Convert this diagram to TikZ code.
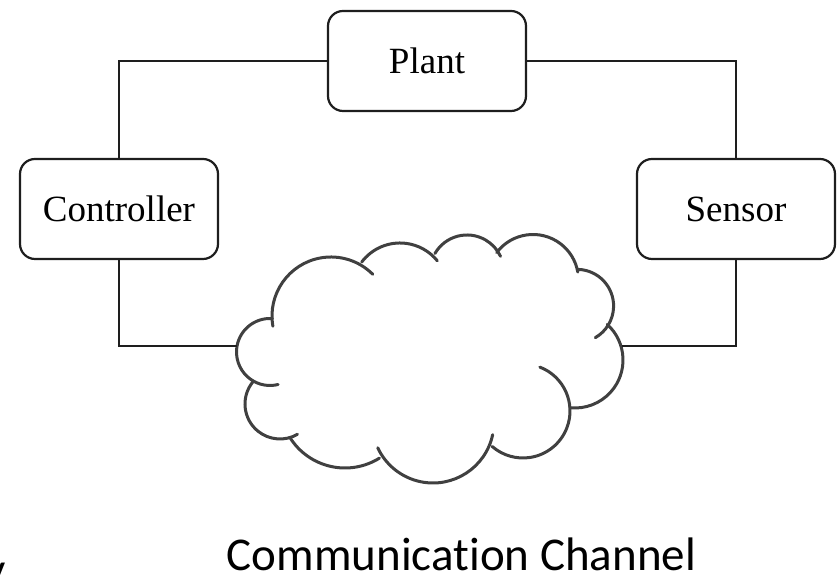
\documentclass[tikz,border=0pt]{standalone}
\usepackage{fontspec}
\setmainfont{Liberation Serif}
\newfontfamily\capfont{Carlito}[Ligatures=NoCommon]
\usepackage{tikz}
\usetikzlibrary{positioning}
\definecolor{ncsdark}{HTML}{1E1E1E}
\definecolor{ncsgray}{HTML}{404040}
\tikzset{
  box/.style={rounded corners=7.5pt,draw=ncsdark,line width=1.1pt,fill=white,align=center,
    minimum width=99pt,minimum height=50pt,inner sep=2pt,font=\fontsize{18.5}{22}\selectfont},
  link/.style={draw=ncsdark,line width=1pt},
  lobe/.style={draw=ncsgray,line width=1.5pt,line cap=round},
}

\begin{document}
\begin{tikzpicture}[x=0.5pt,y=0.5pt]
  \useasboundingbox (0,0) rectangle (837,576);
  \node[box] (plant) at (427,515) {Plant};
  \node[box] (ctrl) at (119,367) {Controller};
  \node[box] (sens) at (736,367) {Sensor};
  % cloud, one arc per lobe
  \draw[lobe] (331,260) ++(190:59) arc[start angle=190,end angle=45,radius=59];
  \draw[lobe] (400,285) ++(143:48) arc[start angle=143,end angle=39,radius=48];
  \draw[lobe] (467,304) ++(150:37) arc[start angle=150,end angle=25,radius=37];
  \draw[lobe] (533,296) ++(143:45.5) arc[start angle=143,end angle=10,radius=45.5];
  \draw[lobe] (577,270) ++(88:36.6) arc[start angle=88,end angle=-60,radius=36.6];
  \draw[lobe] (575,216) ++(48:48) arc[start angle=48,end angle=-96,radius=48];
  \draw[lobe] (523,165) ++(69:47) arc[start angle=69,end angle=-131,radius=47];
  \draw[lobe] (433,154) ++(-12:61) arc[start angle=-12,end angle=-155,radius=61];
  \draw[lobe] (345,173) ++(212:65) arc[start angle=212,end angle=302,radius=65];
  \draw[lobe] (280,172) ++(141:35) arc[start angle=141,end angle=300,radius=35];
  \draw[lobe] (270,224) ++(86:33.5) arc[start angle=86,end angle=284,radius=33.5];
  \coordinate (cloudw) at (237,230);
  \coordinate (cloude) at (622,230);
  % links
  \draw[link] (plant.west) -| (ctrl.north);
  \draw[link] (plant.east) -| (sens.north);
  \draw[link] (ctrl.south) |- (cloudw);
  \draw[link] (sens.south) |- (cloude);
  \node[anchor=base,inner sep=0,font=\capfont\fontsize{23.5}{28}\selectfont] (chan) at (461.5,5) {Communication Channel};
  \node[anchor=base east,inner sep=0,font=\capfont\fontsize{23.5}{28}\selectfont] (cut) at (6,-10) {y};
\end{tikzpicture}
\end{document}
